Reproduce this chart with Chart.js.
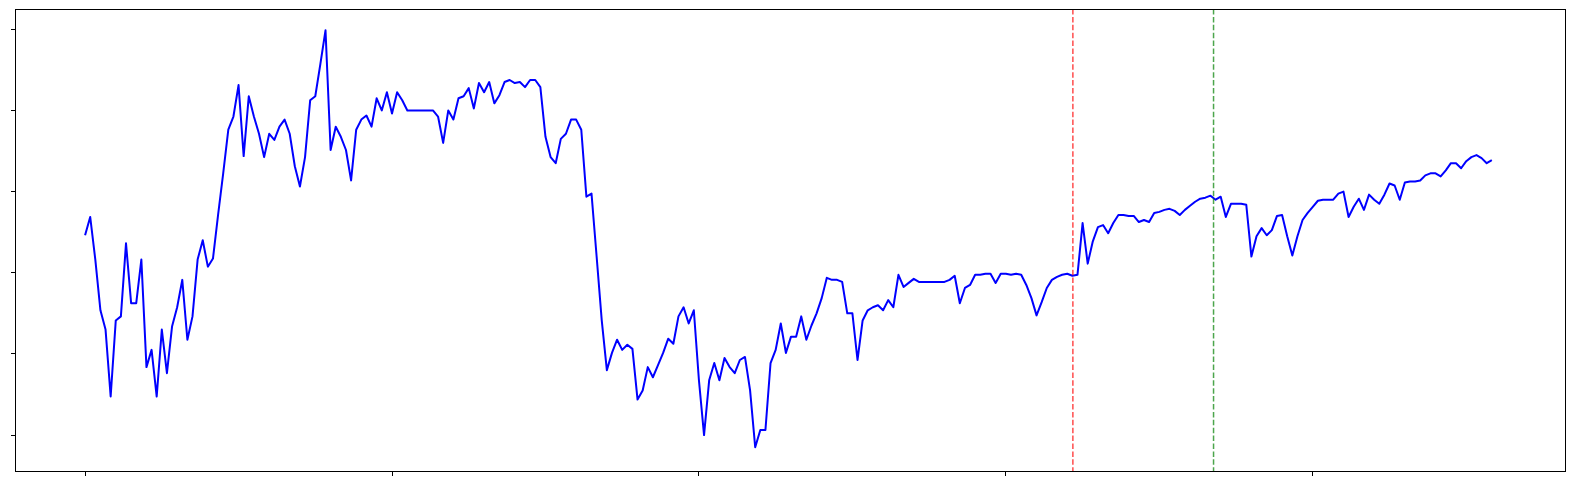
<!DOCTYPE html>
<html>
<head>
<meta charset="utf-8">
<script src="https://cdn.jsdelivr.net/npm/chart.js@4.4.1/dist/chart.umd.min.js"></script>
<style>
  html, body { margin: 0; padding: 0; background: #fff; }
</style>
</head>
<body>
<canvas id="chart" width="1574" height="486"></canvas>
<script>
// series, one value per sample step
const values = [
  197, 215, 173, 123, 104,  38, 113, 117, 189, 130, 130, 173,  67,  84,  38, 104,
   61, 107, 126, 153,  94, 117, 173, 192, 166, 174, 217, 258, 301, 314, 345, 275,
  334, 314, 297, 274, 297, 291, 304, 311, 297, 265, 245, 274, 330, 334, 366, 399,
  281, 304, 294, 281, 251, 301, 311, 315, 304, 332, 320, 338, 317, 338, 330, 320,
  320, 320, 320, 320, 320, 314, 288, 320, 311, 332, 334, 342, 322, 347, 338, 348,
  327, 335, 348, 350, 347, 348, 343, 350, 350, 343, 294, 274, 268, 292, 297, 311,
  311, 301, 235, 238, 176, 113,  64,  81,  94,  84,  89,  85,  35,  44,  67,  57,
   69,  81,  95,  90, 117, 126, 110, 123,  54,   0,  54,  71,  54,  76,  67,  61,
   74,  77,  44, -12,   5,   5,  71,  84, 110,  81,  97,  97, 117,  94, 108, 120,
  135, 155, 153, 153, 151, 120, 120,  74, 113, 123, 126, 128, 123, 133, 126, 158,
  146, 150, 154, 151, 151, 151, 151, 151, 151, 153, 157, 130, 145, 148, 158, 158,
  159, 159, 150, 159, 159, 158, 159, 158, 148, 135, 118, 131, 145, 153, 156, 158,
  159, 157, 158, 209, 169, 191, 205, 207, 199, 209, 217, 217, 216, 216, 210, 212,
  210, 219, 220, 222, 223, 221, 217, 222, 226, 230, 233, 234, 236, 232, 235, 215,
  228, 228, 228, 227, 176, 196, 204, 197, 202, 216, 217, 196, 177, 196, 212, 219,
  225, 231, 232, 232, 232, 238, 240, 215, 225, 233, 222, 237, 232, 228, 237, 248,
  246, 232, 249, 250, 250, 251, 256, 258, 258, 255, 261, 268, 268, 263, 270, 274,
  276, 273, 268, 271
];

const xTicks = [0, 60, 120, 180, 240];
const yTicks = [0, 80, 160, 240, 320, 400];

// the two marked points in time (red, then green)
const eventX = [193.1, 220.6];
const eventColors = ['rgba(255, 0, 0, 0.7)', 'rgba(0, 128, 0, 0.7)'];

const tickGrid = {
    display: true,
    drawOnChartArea: false,
    drawTicks: true,
    tickLength: 4,
    color: '#000',
    lineWidth: 1
};

const frame = {
    id: 'frame',
    afterDraw(chart) {
        const { ctx, chartArea: a } = chart;
        ctx.save();
        ctx.strokeStyle = '#000';
        ctx.lineWidth = 1;
        ctx.strokeRect(a.left + 0.5, a.top + 0.5, a.right - a.left - 1, a.bottom - a.top - 1);
        ctx.restore();
    }
};

const eventLines = {
    id: 'eventLines',
    afterDatasetsDraw(chart) {
        const { ctx, chartArea: a, scales } = chart;
        ctx.save();
        ctx.lineWidth = 1.5;
        ctx.setLineDash([5.5, 2.4]);
        eventX.forEach((x, i) => {
            const px = scales.x.getPixelForValue(x);
            ctx.strokeStyle = eventColors[i];
            ctx.beginPath();
            ctx.moveTo(px, a.top);
            ctx.lineTo(px, a.bottom);
            ctx.stroke();
        });
        ctx.restore();
    }
};

new Chart(document.getElementById('chart'), {
    type: 'line',
    data: {
        datasets: [{
            data: values.map((v, i) => ({ x: i, y: v })),
            borderColor: '#0000ff',
            borderWidth: 2,
            borderJoinStyle: 'round',
            pointRadius: 0,
            tension: 0,
            fill: false
        }]
    },
    options: {
        responsive: false,
        animation: false,
        devicePixelRatio: 1,
        layout: { padding: { left: 11, top: 9, right: 8, bottom: 10 } },
        plugins: { legend: { display: false }, tooltip: { enabled: false } },
        scales: {
            x: {
                type: 'linear',
                min: -13.7,
                max: 289.5,
                afterBuildTicks: s => { s.ticks = xTicks.map(v => ({ value: v })); },
                ticks: { display: false },
                grid: tickGrid,
                border: { display: false }
            },
            y: {
                type: 'linear',
                min: -36.4,
                max: 420,
                afterBuildTicks: s => { s.ticks = yTicks.map(v => ({ value: v })); },
                ticks: { display: false },
                grid: tickGrid,
                border: { display: false }
            }
        }
    },
    plugins: [eventLines, frame]
});
</script>
</body>
</html>
